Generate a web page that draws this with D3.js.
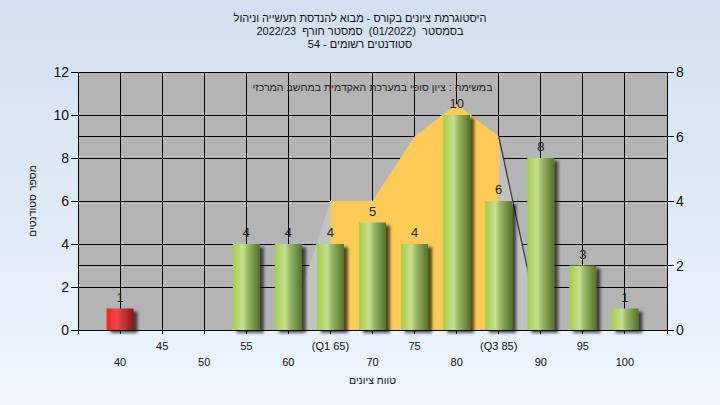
<!DOCTYPE html>
<html><head><meta charset="utf-8">
<script src="https://cdn.jsdelivr.net/npm/d3@7"></script>
<style>html,body{margin:0;padding:0;}svg{display:block;font-family:"Liberation Sans",Arial,"DejaVu Sans",sans-serif;}text{white-space:pre;}</style>
</head><body>
<script>
const categories = [40,45,50,55,60,65,70,75,80,85,90,95,100];
const counts = [1,0,0,4,4,4,5,4,10,6,8,3,1];
const tickLabels = ["40","45","50","55","60","(Q1 65)","70","75","80","(Q3 85)","90","95","100"];
const areaX = [60,65,70,75,80,85,90];
const areaY = [0,4,4,6,7,6,0];
const q1 = 65, q3 = 85;
const passMark = 55;
const leftTicks = [0,2,4,6,8,10,12];
const rightTicks = [0,2,4,6,8];
const titleLines = ["היסטוגרמת ציונים בקורס - מבוא להנדסת תעשייה וניהול","בסמסטר  (01/2022)  סמסטר חורף  2022/23","סטודנטים רשומים - 54"];
const titleDirs = ["rtl","rtl","ltr"];
const noteText = "במשימה : ציון סופי במערכת האקדמית במחשב המרכזי";
const yTitle = "מספר סטודנטים";
const xTitle = "טווח ציונים";

const W=720,H=405;
const L=78,R=667,T=72,B=330;
const svg=d3.select("body").append("svg").attr("width",W).attr("height",H);
const defs=svg.append("defs");
const bg=defs.append("linearGradient").attr("id","bg").attr("x1",0).attr("y1",0).attr("x2",0).attr("y2",1);
bg.append("stop").attr("offset","0%").attr("stop-color","#d2e0f1");
bg.append("stop").attr("offset","100%").attr("stop-color","#eef5fd");
const gg=defs.append("linearGradient").attr("id","gbar").attr("x1",0).attr("y1",0).attr("x2",1).attr("y2",0);
[["0%","#a3cf45"],["38%","#c6e093"],["55%","#9ab867"],["100%","#55722c"]].forEach(s=>gg.append("stop").attr("offset",s[0]).attr("stop-color",s[1]));
const rg=defs.append("linearGradient").attr("id","rbar").attr("x1",0).attr("y1",0).attr("x2",1).attr("y2",0);
[["0%","#ff2020"],["38%","#f04848"],["60%","#c83838"],["100%","#8a1818"]].forEach(s=>rg.append("stop").attr("offset",s[0]).attr("stop-color",s[1]));
const f=defs.append("filter").attr("id","sh").attr("x","-30%").attr("y","-10%").attr("width","180%").attr("height","130%");
f.append("feDropShadow").attr("dx",4).attr("dy",3).attr("stdDeviation",1.8).attr("flood-color","#000").attr("flood-opacity",0.65);

svg.append("rect").attr("width",W).attr("height",H).attr("fill","url(#bg)");

const x=d3.scaleLinear().domain([35,105]).range([L,R]);
const yl=d3.scaleLinear().domain([0,12]).range([B,T]);
const yr=d3.scaleLinear().domain([0,8]).range([B,T]);

svg.append("rect").attr("x",L).attr("y",T).attr("width",R-L).attr("height",B-T).attr("fill","#b4b4b4");

// gridlines
const grid=svg.append("g").attr("stroke","#000").attr("stroke-width",1).attr("shape-rendering","crispEdges");
leftTicks.forEach(v=>grid.append("line").attr("x1",L).attr("x2",R).attr("y1",yl(v)).attr("y2",yl(v)));
rightTicks.forEach(v=>grid.append("line").attr("x1",L).attr("x2",R).attr("y1",yr(v)).attr("y2",yr(v)));
categories.forEach(c=>grid.append("line").attr("x1",x(c)).attr("x2",x(c)).attr("y1",T).attr("y2",B));

// area series
const pts=areaX.map((v,i)=>({x:v,y:areaY[i]}));
const area=d3.area().x(d=>x(d.x)).y0(B).y1(d=>yr(d.y));
svg.append("path").datum(pts).attr("d",area).attr("fill","#c2c2c2");
const inner=pts.filter(d=>d.x>=q1&&d.x<=q3);
svg.append("path").datum(inner).attr("d",area).attr("fill","#fecb57");
const outer=pts.filter(d=>d.x>=q3);
svg.append("path").datum(outer).attr("d",d3.line().x(d=>x(d.x)).y(d=>yr(d.y))).attr("fill","none").attr("stroke","#333").attr("stroke-width",1.2);

// bars
const bw=27;
const bars=categories.map((c,i)=>({c,v:counts[i]})).filter(d=>d.v>0);
svg.append("g").selectAll("rect").data(bars).join("rect")
 .attr("x",d=>x(d.c)-bw/2).attr("width",bw)
 .attr("y",d=>yl(d.v)).attr("height",d=>B-yl(d.v))
 .attr("fill",d=>d.c<passMark?"url(#rbar)":"url(#gbar)")
 .attr("filter","url(#sh)");
svg.append("g").selectAll("text").data(bars).join("text")
 .attr("x",d=>x(d.c)).attr("y",d=>yl(d.v)-7).attr("text-anchor","middle")
 .attr("font-size",13).attr("fill","#222").text(d=>d.v);

// axes frame
const ax=svg.append("g").attr("stroke","#000").attr("stroke-width",1).attr("shape-rendering","crispEdges");
ax.append("line").attr("x1",L).attr("x2",L).attr("y1",T).attr("y2",B+4);
ax.append("line").attr("x1",R).attr("x2",R).attr("y1",T).attr("y2",B+4);
ax.append("line").attr("x1",L).attr("x2",R).attr("y1",B).attr("y2",B);
ax.append("line").attr("x1",L).attr("x2",R).attr("y1",T).attr("y2",T);
leftTicks.forEach(v=>ax.append("line").attr("x1",L-7).attr("x2",L).attr("y1",yl(v)).attr("y2",yl(v)));
rightTicks.forEach(v=>ax.append("line").attr("x1",R).attr("x2",R+7).attr("y1",yr(v)).attr("y2",yr(v)));
categories.forEach(c=>ax.append("line").attr("x1",x(c)).attr("x2",x(c)).attr("y1",B).attr("y2",B+4));

svg.append("g").selectAll("text").data(leftTicks).join("text")
 .attr("x",L-9).attr("y",d=>yl(d)+5).attr("text-anchor","end").attr("font-size",14).attr("fill","#111").text(d=>d);
svg.append("g").selectAll("text").data(rightTicks).join("text")
 .attr("x",R+9).attr("y",d=>yr(d)+5).attr("text-anchor","start").attr("font-size",14).attr("fill","#111").text(d=>d);
svg.append("g").selectAll("text").data(categories).join("text")
 .attr("x",d=>x(d)).attr("y",(d,i)=>i%2?350:366).attr("text-anchor","middle")
 .attr("font-size",11).attr("fill","#111").text((d,i)=>tickLabels[i]);

svg.append("text").attr("x",(L+R)/2).attr("y",384).attr("text-anchor","middle").attr("font-size",10.5).attr("fill","#111").attr("direction","rtl").text(xTitle);
svg.append("text").attr("transform",`translate(36,${(T+B)/2}) rotate(-90)`).attr("text-anchor","middle").attr("font-size",10.5).attr("fill","#111").attr("direction","rtl").text(yTitle);
svg.append("text").attr("x",(L+R)/2).attr("y",91).attr("text-anchor","middle").attr("font-size",10.6).attr("fill","#222").attr("direction","rtl").text(noteText);
titleLines.forEach((t,i)=>svg.append("text").attr("x",360).attr("y",22+i*13).attr("text-anchor","middle").attr("font-size",11).attr("fill","#111").attr("direction",titleDirs[i]).text(t));
</script>
</body></html>
